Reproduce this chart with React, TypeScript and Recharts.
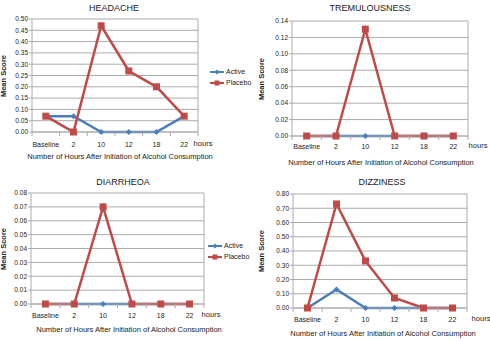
import { LineChart, Line, XAxis, YAxis, CartesianGrid, ReferenceLine } from "recharts";

const categories = ["Baseline", "2", "10", "12", "18", "22"];

const headacheActive = [0.07, 0.07, 0, 0, 0, 0.07];
const headachePlacebo = [0.07, 0, 0.47, 0.27, 0.2, 0.07];
const headacheTicks = [0, 0.05, 0.1, 0.15, 0.2, 0.25, 0.3, 0.35, 0.4, 0.45, 0.5];

const tremActive = [0, 0, 0, 0, 0, 0];
const tremPlacebo = [0, 0, 0.13, 0, 0, 0];
const tremTicks = [0, 0.02, 0.04, 0.06, 0.08, 0.1, 0.12, 0.14];

const diarrActive = [0, 0, 0, 0, 0, 0];
const diarrPlacebo = [0, 0, 0.07, 0, 0, 0];
const diarrTicks = [0, 0.01, 0.02, 0.03, 0.04, 0.05, 0.06, 0.07, 0.08];

const dizzActive = [0, 0.13, 0, 0, 0, 0];
const dizzPlacebo = [0, 0.73, 0.33, 0.07, 0, 0];
const dizzTicks = [0, 0.1, 0.2, 0.3, 0.4, 0.5, 0.6, 0.7, 0.8];

const seriesNames = ["Active", "Placebo"];

const BLUE = "#4a7ebb";
const RED = "#be4b48";
const GRID = "#ababab";
const TEXT = "#222";
const FONT = '"Liberation Sans", Arial, sans-serif';

const xTicks = [-0.5, 0, 0.5, 1, 1.5, 2, 2.5, 3, 3.5, 4, 4.5, 5, 5.5];

const Square = (props: any) => {
  const { cx, cy, index } = props;
  if (cx == null || cy == null) return <g key={index} />;
  return <rect key={index} x={cx - 3.5} y={cy - 3.5} width={7} height={7} fill={RED} />;
};

const Diamond = (props: any) => {
  const { cx, cy, index } = props;
  if (cx == null || cy == null) return <g key={index} />;
  return (
    <polygon key={index} points={`${cx},${cy - 3} ${cx + 3},${cy} ${cx},${cy + 3} ${cx - 3},${cy}`} fill={BLUE} />
  );
};

const makeTick = (labelOffset: number) => (props: any) => {
  const { x, y, payload } = props;
  const v = payload.value;
  if (Number.isInteger(v)) {
    return (
      <text x={x} y={y + labelOffset} textAnchor="middle" dominantBaseline="central" fontSize={7} fill={TEXT} fontFamily={FONT}>
        {categories[v]}
      </text>
    );
  }
  return <line x1={x} y1={y} x2={x} y2={y + 4} stroke={GRID} />;
};

const LegendBox = ({ left, top }: { left: number; top: number }) => (
  <div style={{ position: "absolute", left, top, fontFamily: FONT, fontSize: 7, color: TEXT, lineHeight: "11px" }}>
    {seriesNames.map((name, i) => {
      const color = i === 0 ? BLUE : RED;
      return (
        <div key={name} style={{ display: "flex", alignItems: "center", height: 11, whiteSpace: "nowrap" }}>
          <svg width={16} height={8} style={{ marginRight: 1 }}>
            <line x1={1} y1={4} x2={15} y2={4} stroke={color} strokeWidth={2} />
            {i === 1 ? (
              <rect x={5.5} y={1.5} width={5} height={5} fill={color} />
            ) : (
              <polygon points="8,1.5 10.5,4 8,6.5 5.5,4" fill={color} />
            )}
          </svg>
          <span>{name}</span>
        </div>
      );
    })}
  </div>
);

interface PanelProps {
  ox: number;
  oy: number;
  plot: { left: number; right: number; top: number; bottom: number };
  active: number[];
  placebo: number[];
  ticks: number[];
  labelOffset: number;
}

const Panel = ({ ox, oy, plot, active, placebo, ticks, labelOffset }: PanelProps) => {
  const data = categories.map((c, i) => ({ x: i, label: c, active: active[i], placebo: placebo[i] }));
  const yMax = ticks[ticks.length - 1];
  const yw = 28;
  const xh = 20;
  const margin = {
    top: plot.top - oy,
    right: ox + 245 - plot.right,
    bottom: 170 - (plot.bottom - oy) - xh,
    left: plot.left - ox - yw,
  };
  return (
    <div style={{ position: "absolute", left: ox, top: oy, width: 245, height: 170 }}>
      <LineChart width={245} height={170} data={data} margin={margin}>
        <CartesianGrid vertical={false} stroke={GRID} />
        <XAxis
          dataKey="x"
          type="number"
          domain={[-0.5, 5.5]}
          ticks={xTicks}
          interval={0}
          tickLine={false}
          tickSize={0}
          tickMargin={0}
          height={xh}
          axisLine={{ stroke: GRID }}
          tick={makeTick(labelOffset)}
        />
        <YAxis
          type="number"
          domain={[0, yMax]}
          ticks={ticks}
          interval={0}
          width={yw}
          tickSize={3}
          tickMargin={1}
          tickFormatter={(v: number) => v.toFixed(2)}
          tick={{ fontSize: 6.5, fill: TEXT, fontFamily: FONT }}
          axisLine={{ stroke: GRID }}
          tickLine={{ stroke: GRID }}
        />
        <ReferenceLine x={5.5} stroke={GRID} />
        <Line dataKey="active" name={seriesNames[0]} stroke={BLUE} strokeWidth={2.5} dot={Diamond} isAnimationActive={false} />
        <Line dataKey="placebo" name={seriesNames[1]} stroke={RED} strokeWidth={2.5} dot={Square} isAnimationActive={false} />
      </LineChart>
    </div>
  );
};

const Txt = ({ x, y, size, bold, rotate, children }: any) => (
  <div
    style={{
      position: "absolute",
      left: x,
      top: y,
      transform: `translate(-50%, -50%)${rotate ? " rotate(-90deg)" : ""}`,
      fontSize: size,
      fontWeight: bold ? "bold" : "normal",
      whiteSpace: "nowrap",
      lineHeight: 1,
      color: TEXT,
      fontFamily: FONT,
    }}
  >
    {children}
  </div>
);

const X_TITLE = "Number of Hours After Initiation of Alcohol Consumption";

export default function App() {
  return (
    <div style={{ position: "absolute", left: 0, top: 0, width: 490, height: 341, background: "#fff", fontFamily: FONT }}>
      <Panel
        ox={0}
        oy={0}
        plot={{ left: 32, right: 198, top: 19, bottom: 132 }}
        active={headacheActive}
        placebo={headachePlacebo}
        ticks={headacheTicks}
        labelOffset={12}
      />
      <Panel
        ox={245}
        oy={0}
        plot={{ left: 292, right: 468, top: 21, bottom: 136 }}
        active={tremActive}
        placebo={tremPlacebo}
        ticks={tremTicks}
        labelOffset={10}
      />
      <Panel
        ox={0}
        oy={170}
        plot={{ left: 31, right: 204, top: 193, bottom: 304 }}
        active={diarrActive}
        placebo={diarrPlacebo}
        ticks={diarrTicks}
        labelOffset={11}
      />
      <Panel
        ox={245}
        oy={170}
        plot={{ left: 293, right: 467, top: 194, bottom: 308 }}
        active={dizzActive}
        placebo={dizzPlacebo}
        ticks={dizzTicks}
        labelOffset={11}
      />

      <LegendBox left={209} top={66} />
      <LegendBox left={207} top={240} />

      <Txt x={114} y={8} size={9}>HEADACHE</Txt>
      <Txt x={370} y={8} size={9}>TREMULOUSNESS</Txt>
      <Txt x={123} y={182} size={9}>DIARRHEOA</Txt>
      <Txt x={382} y={182} size={9}>DIZZINESS</Txt>

      <Txt x={120} y={157} size={7.5}>{X_TITLE}</Txt>
      <Txt x={381} y={163} size={7.5}>{X_TITLE}</Txt>
      <Txt x={129} y={330} size={7.5}>{X_TITLE}</Txt>
      <Txt x={383} y={334} size={7.5}>{X_TITLE}</Txt>

      <Txt x={203} y={144} size={7.5}>hours</Txt>
      <Txt x={478} y={146} size={7.5}>hours</Txt>
      <Txt x={211} y={315} size={7.5}>hours</Txt>
      <Txt x={481} y={319} size={7.5}>hours</Txt>

      <Txt x={4} y={76} size={7.5} bold rotate>Mean Score</Txt>
      <Txt x={262} y={79} size={7.5} bold rotate>Mean Score</Txt>
      <Txt x={4} y={249} size={7.5} bold rotate>Mean Score</Txt>
      <Txt x={262} y={251} size={7.5} bold rotate>Mean Score</Txt>
    </div>
  );
}
